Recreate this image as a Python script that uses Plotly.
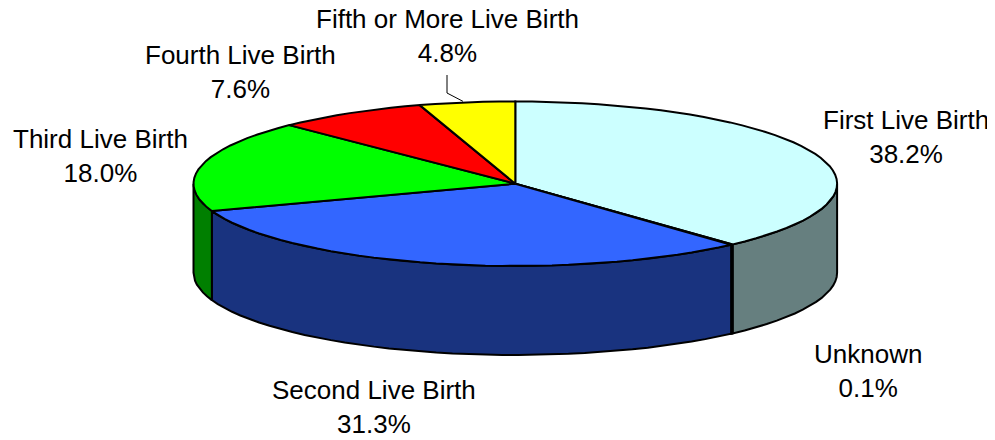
"""3D-style pie of live birth order, drawn with filled scatter traces."""
import math
import plotly.graph_objects as go

# data
categories = ['First Live Birth', 'Unknown', 'Second Live Birth',
              'Third Live Birth', 'Fourth Live Birth', 'Fifth or More Live Birth']
percents = [38.2, 0.1, 31.3, 18.0, 7.6, 4.8]

# styles
top_colors = ['#CCFFFF', '#C0C0C0', '#3366FF', '#00FF00', '#FF0000', '#FFFF00']

# geometry of the pie in pixel space
CX, CY = 515.3, 183.7
RX, RY = 321.8, 82.3
DEPTH = 89
PAGE_OFFSET = 8  # default body margin of the html page

# label centres (pixel space), one per category
label_pos = {
    'First Live Birth': (906, 137),
    'Unknown': (868, 371),
    'Second Live Birth': (374, 407),
    'Third Live Birth': (100, 156),
    'Fourth Live Birth': (240, 72),
    'Fifth or More Live Birth': (447, 36),
}


def darken(hex_color: str) -> str:
    """Return the colour at half brightness, for the side walls."""
    r, g, b = (int(hex_color[i:i + 2], 16) for i in (1, 3, 5))
    return f'rgb({r // 2},{g // 2},{b // 2})'


def arc(a: float, b: float, dy: float = 0.0, n: int = 120):
    """Points on the ellipse rim from angle a to b (degrees clockwise from top)."""
    steps = max(2, int(n * abs(b - a) / 360) + 2)
    xs, ys = [], []
    for k in range(steps):
        t = math.radians(a + (b - a) * k / (steps - 1))
        xs.append(CX + RX * math.sin(t))
        ys.append(CY - RY * math.cos(t) + dy)
    return xs, ys


fig = go.Figure()

# slice boundaries in degrees
bounds = []
start = 0.0
for p in percents:
    end = start + p / sum(percents) * 360
    bounds.append((start, end))
    start = end

# side walls (only the front half, 90..270, is visible)
for (a, b), col in zip(bounds, top_colors):
    lo, hi = max(a, 90), min(b, 270)
    if hi <= lo:
        continue
    tx, ty = arc(lo, hi)
    bx, by = arc(hi, lo, DEPTH)
    fig.add_trace(go.Scatter(x=tx + bx + [tx[0]], y=ty + by + [ty[0]],
                             mode='lines', fill='toself', fillcolor=darken(col),
                             line=dict(color='black', width=2), hoverinfo='skip'))

# top face wedges
for (a, b), col in zip(bounds, top_colors):
    ax, ay = arc(a, b)
    fig.add_trace(go.Scatter(x=[CX] + ax + [CX], y=[CY] + ay + [CY],
                             mode='lines', fill='toself', fillcolor=col,
                             line=dict(color='black', width=2), hoverinfo='skip'))

# labels
for name, p, (a, b) in zip(categories, percents, bounds):
    lx, ly = label_pos[name]
    fig.add_annotation(x=lx, y=ly, xref='x', yref='y', showarrow=False,
                       text=f'{name}<br>{p:.1f}%', align='center',
                       font=dict(family='Liberation Sans, Arial', size=26, color='black'))

# leader line for the small "Fifth or More" slice
a, b = bounds[-1]
mid = math.radians((a + b) / 2)
ex = CX + RX * math.sin(mid) - 4
ey = CY - RY * math.cos(mid) - 1
lx, ly = label_pos[categories[-1]]
fig.add_trace(go.Scatter(x=[lx, lx, ex], y=[ly + 39, ly + 57, ey], mode='lines',
                         line=dict(color='black', width=1), hoverinfo='skip'))

fig.update_layout(
    width=995, height=440,
    margin=dict(l=0, r=0, t=0, b=0),
    paper_bgcolor='white', plot_bgcolor='white',
    showlegend=False,
    xaxis=dict(range=[PAGE_OFFSET, 995 + PAGE_OFFSET], visible=False, fixedrange=True),
    yaxis=dict(range=[440 + PAGE_OFFSET, PAGE_OFFSET], visible=False, fixedrange=True),
)

fig.write_html('out.html')
